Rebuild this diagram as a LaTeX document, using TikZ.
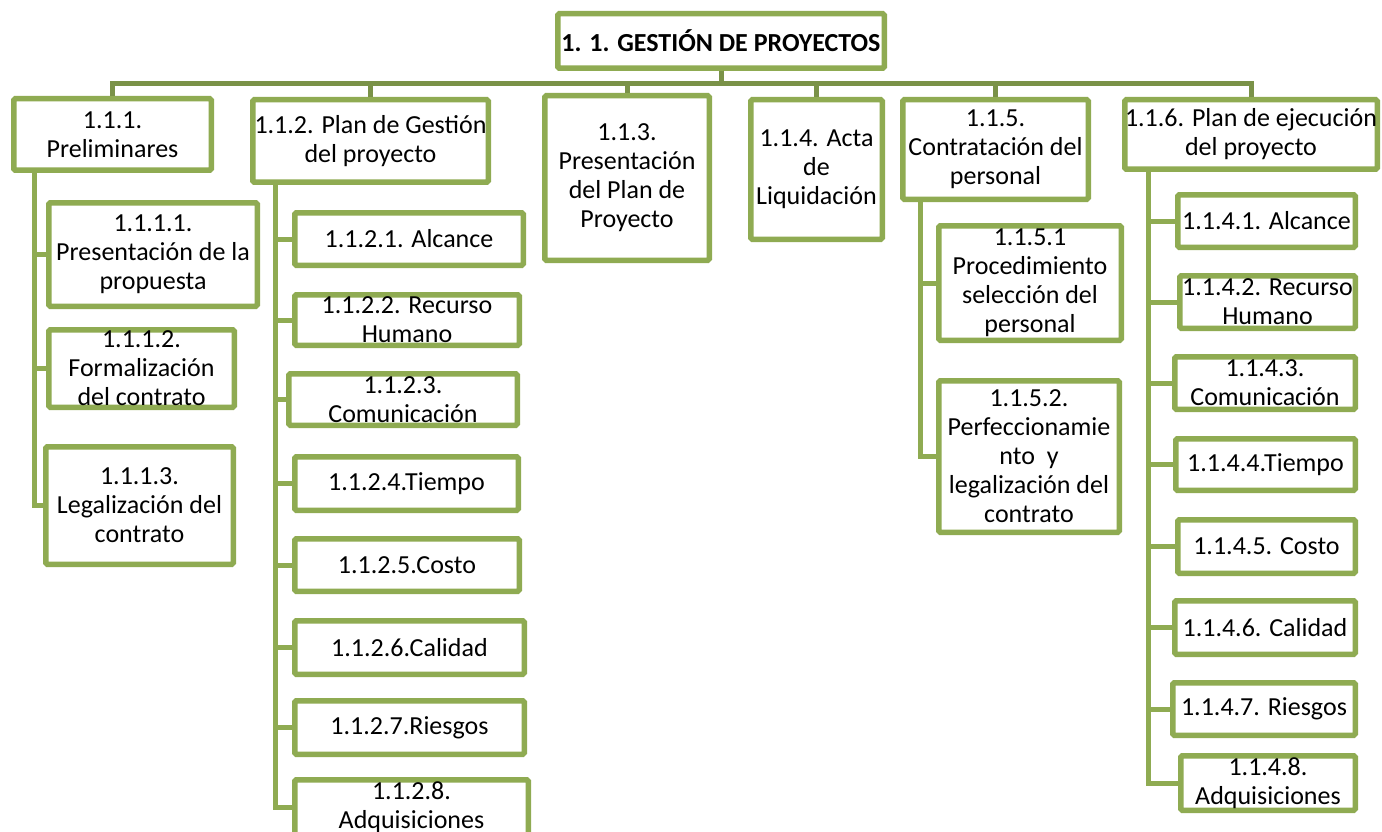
\documentclass[tikz,border=0pt]{standalone}
\usepackage{fontspec}
\setmainfont{Carlito}
\definecolor{boxcol}{RGB}{143,171,82}
\definecolor{conncol}{RGB}{122,146,72}
\tikzset{
  box/.style={draw=boxcol, line width=5.5pt, fill=white, rounded corners=1.5pt,
    inner sep=0pt, align=center, font=\fontsize{26}{29}\selectfont, text=black},
  rootbox/.style={box, font=\fontsize{26}{29}\selectfont\bfseries},
  conn1/.style={draw=conncol, line width=5pt},
  conn2/.style={draw=boxcol, line width=5pt},
}
\newcommand\wbsbox[7][box]{%
  \node[#1, minimum width={#5-#3-5.5}, minimum height={#6-#4-5.5}] (#2)
    at ({(#3+#5)/2},{(#4+#6)/2}) {#7};}
\begin{document}
\begin{tikzpicture}[x=1pt,y=-1pt]
\useasboundingbox (0,0) rectangle (1382,832);
\clip (0,0) rectangle (1382,832);
\coordinate (bus) at (0,84);
\coordinate (s1) at (34,0);
\coordinate (s2) at (275,0);
\coordinate (s5) at (920,0);
\coordinate (s6) at (1148,0);

% connectors first (boxes drawn over them)
\begin{scope}[on background layer/.style={}]
\end{scope}

% root and level 1 boxes
\wbsbox[rootbox]{root}{555}{11}{887}{71}{1. 1. GESTIÓN DE PROYECTOS}
\wbsbox{n111}{11}{96}{214}{173}{1.1.1.\\Preliminares}
\wbsbox{n112}{250}{97}{491}{185}{1.1.2. Plan de Gestión\\del proyecto}
\wbsbox{n113}{542}{93}{712}{263}{1.1.3.\\Presentación\\del Plan de\\Proyecto}
\wbsbox{n114}{748}{97}{885}{242}{1.1.4. Acta\\de\\Liquidación}
\wbsbox{n115}{900}{97}{1091}{202}{1.1.5.\\Contratación del\\personal}
\wbsbox{n116}{1122}{97}{1380}{172}{1.1.6. Plan de ejecución\\del proyecto}

% level 1 connectors
\foreach \c in {n111,n112,n113,n114,n115,n116}{
  \draw[conn1] (root.south) -- (root.south |- bus) -| (\c.north);
}

% children of 1.1.1
\wbsbox{n1111}{46}{200}{260}{309}{1.1.1.1.\\Presentación de la\\propuesta}
\wbsbox{n1112}{46}{327}{237}{410}{1.1.1.2.\\Formalización\\del contrato}
\wbsbox{n1113}{43}{444}{236}{567}{1.1.1.3.\\Legalización del\\contrato}
\foreach \c in {n1111,n1112,n1113}{
  \draw[conn2] (s1 |- n111.south) |- (\c.west);
}

% children of 1.1.2
\wbsbox{n1121}{292}{210}{526}{268}{1.1.2.1. Alcance}
\wbsbox{n1122}{292}{292}{522}{348}{1.1.2.2. Recurso\\Humano}
\wbsbox{n1123}{286}{371}{520}{428}{1.1.2.3.\\Comunicación}
\wbsbox{n1124}{292}{454}{521}{513}{1.1.2.4.Tiempo}
\wbsbox{n1125}{292}{536}{522}{594}{1.1.2.5.Costo}
\wbsbox{n1126}{292}{618}{527}{677}{1.1.2.6.Calidad}
\wbsbox{n1127}{292}{698}{527}{757}{1.1.2.7.Riesgos}
\wbsbox{n1128}{292}{777}{531}{838}{1.1.2.8.\\Adquisiciones}
\foreach \c in {n1121,n1122,n1123,n1124,n1125,n1126,n1127,n1128}{
  \draw[conn2] (s2 |- n112.south) |- (\c.west);
}

% children of 1.1.5
\wbsbox{n1151}{936}{223}{1124}{343}{1.1.5.1\\Procedimiento\\selección del\\personal}
\wbsbox{n1152}{936}{378}{1122}{535}{1.1.5.2.\\Perfeccionamie\\nto~ y\\legalización del\\contrato}
\foreach \c in {n1151,n1152}{
  \draw[conn2] (s5 |- n115.south) |- (\c.west);
}

% children of 1.1.6
\wbsbox{n1141}{1175}{192}{1358}{250}{1.1.4.1. Alcance}
\wbsbox{n1142}{1177}{273}{1358}{331}{1.1.4.2. Recurso\\Humano}
\wbsbox{n1143}{1172}{354}{1358}{412}{1.1.4.3.\\Comunicación}
\wbsbox{n1144}{1173}{436}{1358}{493}{1.1.4.4.Tiempo}
\wbsbox{n1145}{1175}{517}{1358}{576}{1.1.4.5. Costo}
\wbsbox{n1146}{1172}{598}{1358}{657}{1.1.4.6. Calidad}
\wbsbox{n1147}{1170}{680}{1358}{738}{1.1.4.7. Riesgos}
\wbsbox{n1148}{1178}{753}{1358}{813}{1.1.4.8.\\Adquisiciones}
\foreach \c in {n1141,n1142,n1143,n1144,n1145,n1146,n1147,n1148}{
  \draw[conn2] (s6 |- n116.south) |- (\c.west);
}
\end{tikzpicture}
\end{document}
